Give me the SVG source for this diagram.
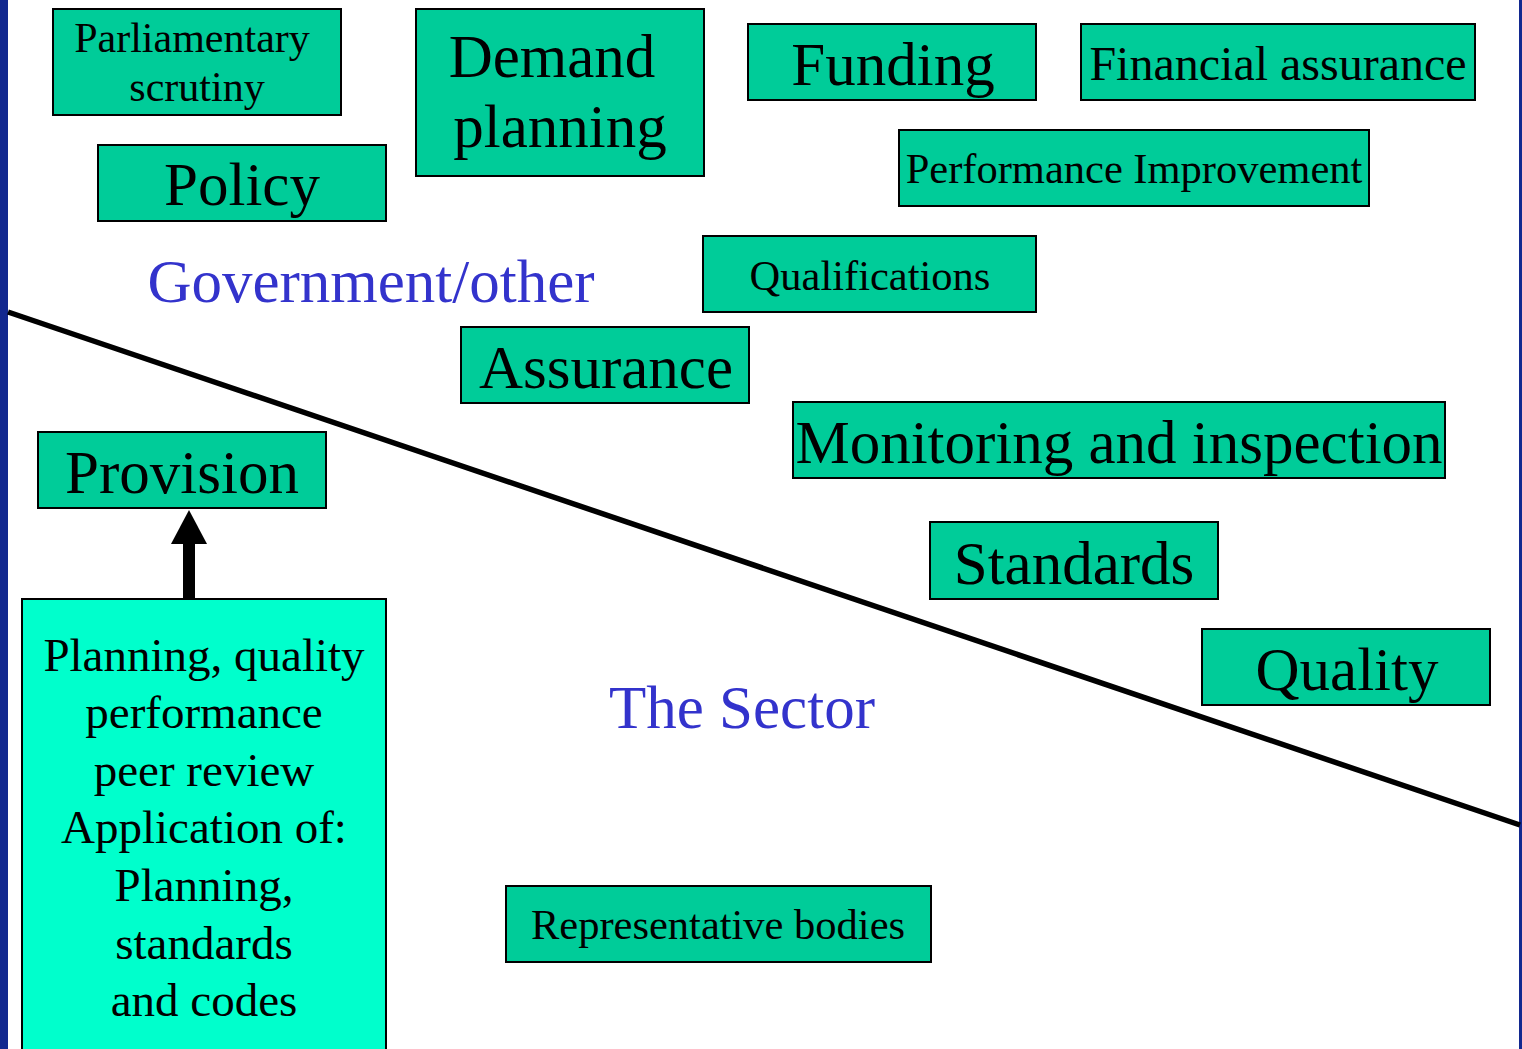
<svg xmlns="http://www.w3.org/2000/svg" width="1522" height="1049" viewBox="0 0 1522 1049">
<style>
.box{fill:#00CC99;stroke:#000;stroke-width:2}
.big{fill:#00FFCC;stroke:#000;stroke-width:2}
text{font-family:"Liberation Serif","Times New Roman",serif;fill:#000;text-anchor:middle}
.lbl{fill:#3333CC}
</style>
<rect width="1522" height="1049" fill="#fff"/>
<rect x="0" y="0" width="8" height="1049" fill="#12288F"/>
<rect x="1519" y="0" width="3" height="1049" fill="#12288F"/>
<g id="connectors">
<line x1="8" y1="312" x2="1520" y2="825" stroke="#000" stroke-width="5.5"/>
<rect x="183" y="540" width="12" height="59" fill="#000"/>
<polygon points="189,510 207,544 171,544" fill="#000"/>
</g>
<g id="parliamentary"><rect class="box" x="53" y="9" width="288" height="106"/><text x="192" y="52" font-size="42">Parliamentary</text><text x="197" y="101" font-size="42">scrutiny</text></g>
<g id="demand"><rect class="box" x="416" y="9" width="288" height="167"/><text x="552" y="77" font-size="61">Demand</text><text x="560" y="147" font-size="61">planning</text></g>
<g id="funding"><rect class="box" x="748" y="24" width="288" height="76"/><text x="893" y="85" font-size="61">Funding</text></g>
<g id="financial"><rect class="box" x="1081" y="24" width="394" height="76"/><text x="1278" y="80" font-size="48">Financial assurance</text></g>
<g id="performance"><rect class="box" x="899" y="130" width="470" height="76"/><text x="1134" y="183" font-size="42.5">Performance Improvement</text></g>
<g id="policy"><rect class="box" x="98" y="145" width="288" height="76"/><text x="242" y="205" font-size="61">Policy</text></g>
<g id="gov"><text class="lbl" x="371" y="302" font-size="61">Government/other</text></g>
<g id="qualifications"><rect class="box" x="703" y="236" width="333" height="76"/><text x="870" y="290" font-size="42.5">Qualifications</text></g>
<g id="assurance"><rect class="box" x="461" y="327" width="288" height="76"/><text x="606" y="388" font-size="61">Assurance</text></g>
<g id="monitoring"><rect class="box" x="793" y="402" width="652" height="76"/><text x="1119" y="463" font-size="61">Monitoring and inspection</text></g>
<g id="provision"><rect class="box" x="38" y="432" width="288" height="76"/><text x="182" y="493" font-size="61">Provision</text></g>
<g id="standards"><rect class="box" x="930" y="522" width="288" height="77"/><text x="1074" y="584" font-size="61">Standards</text></g>
<g id="quality"><rect class="box" x="1202" y="629" width="288" height="76"/><text x="1347" y="690" font-size="61">Quality</text></g>
<g id="sector"><text class="lbl" x="742" y="728" font-size="61">The Sector</text></g>
<g id="representative"><rect class="box" x="506" y="886" width="425" height="76"/><text x="718" y="939" font-size="42.5">Representative bodies</text></g>
<g id="planning"><rect class="big" x="22" y="599" width="364" height="460"/>
<text font-size="47"><tspan x="204" y="671">Planning, quality</tspan><tspan x="204" y="728">performance</tspan><tspan x="204" y="786">peer review</tspan><tspan x="204" y="843">Application of:</tspan><tspan x="204" y="901">Planning,</tspan><tspan x="204" y="959">standards</tspan><tspan x="204" y="1016">and codes</tspan></text></g>
</svg>
